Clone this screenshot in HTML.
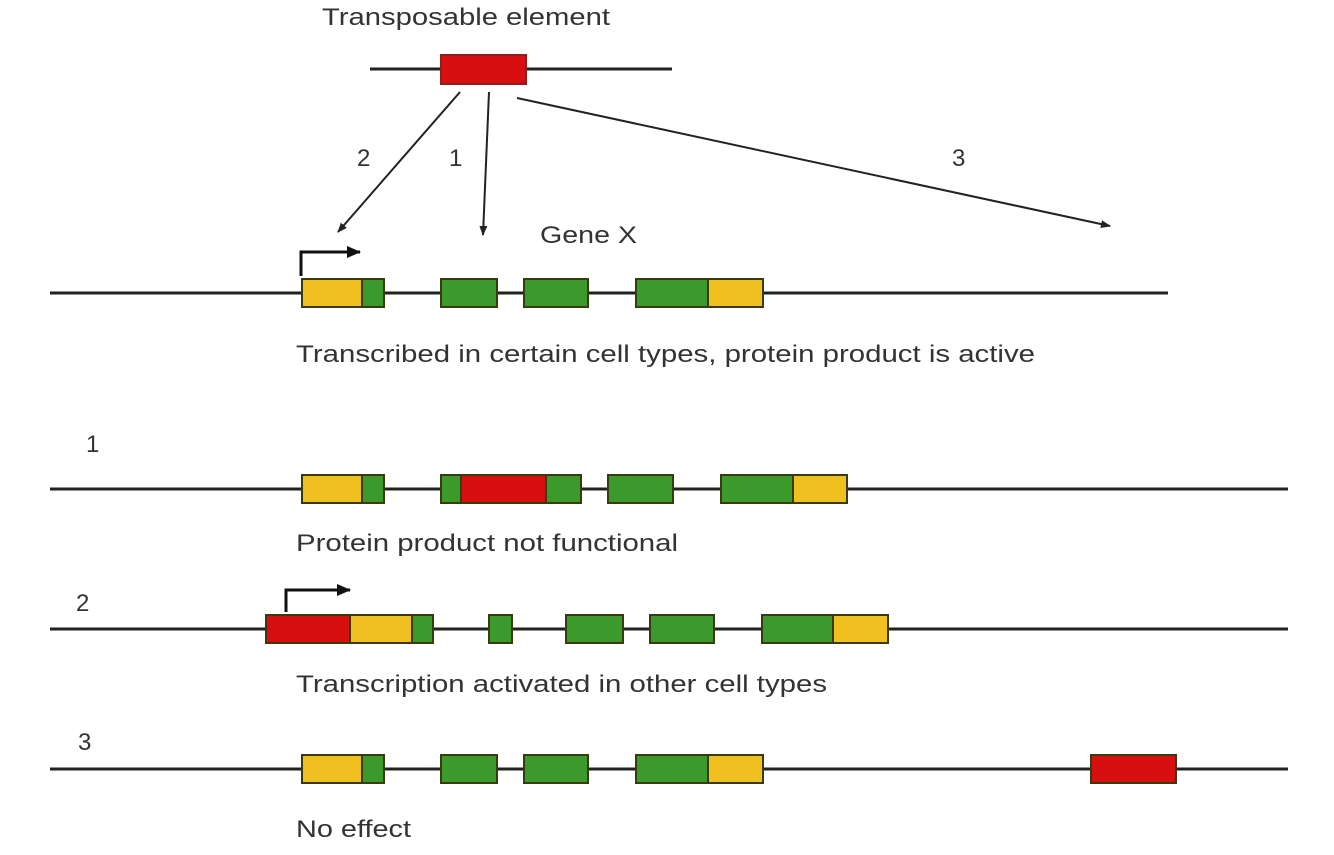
<!DOCTYPE html>
<html><head><meta charset="utf-8"><style>body{margin:0;background:#fff}svg{display:block}text{font-family:"Liberation Sans",sans-serif;fill:#333;font-size:24px}</style></head><body>
<svg width="1334" height="855" viewBox="0 0 1334 855">
<defs><marker id="a" markerWidth="10" markerHeight="8" refX="9" refY="4" orient="auto" markerUnits="userSpaceOnUse"><path d="M0,0L10,4L0,8z" fill="#222"/></marker>
<marker id="p" markerWidth="14" markerHeight="12" refX="13" refY="6" orient="auto" markerUnits="userSpaceOnUse"><path d="M0,0L14,6L0,12z" fill="#111"/></marker></defs>
<g stroke="#222" stroke-width="2.5">
<text x="322" y="25" stroke="none" textLength="288" lengthAdjust="spacingAndGlyphs">Transposable element</text>
<line x1="370" y1="69" x2="672" y2="69" stroke-width="3"/>
<rect x="441" y="55" width="85" height="29" fill="#d80f0f" stroke="#8a2020" stroke-width="2"/>
<line x1="460" y1="92" x2="338" y2="232" stroke-width="2" marker-end="url(#a)"/>
<line x1="489" y1="92" x2="483" y2="235" stroke-width="2" marker-end="url(#a)"/>
<line x1="517" y1="98" x2="1110" y2="226" stroke-width="2" marker-end="url(#a)"/>
</g>
<text x="357" y="166">2</text><text x="449" y="166">1</text><text x="952" y="166">3</text>
<text x="540" y="243" textLength="97" lengthAdjust="spacingAndGlyphs">Gene X</text>
<g stroke="#111" stroke-width="3" fill="none">
<path d="M301,276V252H360" marker-end="url(#p)"/>
<path d="M286,612V590H350" marker-end="url(#p)"/>
</g>
<g stroke="#222" stroke-width="3">
<line x1="50" y1="293" x2="1168" y2="293"/>
<line x1="50" y1="489" x2="1288" y2="489"/>
<line x1="50" y1="629" x2="1288" y2="629"/>
<line x1="50" y1="769" x2="1288" y2="769"/>
</g>
<g stroke="#3a3a10" stroke-width="2">
<rect x="302" y="279" width="60" height="28" fill="#f0c020"/><rect x="362" y="279" width="22" height="28" fill="#3c9a2c"/>
<rect x="441" y="279" width="56" height="28" fill="#3c9a2c"/><rect x="524" y="279" width="64" height="28" fill="#3c9a2c"/>
<rect x="636" y="279" width="72" height="28" fill="#3c9a2c"/><rect x="708" y="279" width="55" height="28" fill="#f0c020"/>
<rect x="302" y="475" width="60" height="28" fill="#f0c020"/><rect x="362" y="475" width="22" height="28" fill="#3c9a2c"/>
<rect x="441" y="475" width="20" height="28" fill="#3c9a2c"/><rect x="461" y="475" width="85" height="28" fill="#d80f0f"/><rect x="546" y="475" width="35" height="28" fill="#3c9a2c"/>
<rect x="608" y="475" width="65" height="28" fill="#3c9a2c"/>
<rect x="721" y="475" width="72" height="28" fill="#3c9a2c"/><rect x="793" y="475" width="54" height="28" fill="#f0c020"/>
<rect x="266" y="615" width="84" height="28" fill="#d80f0f"/><rect x="350" y="615" width="62" height="28" fill="#f0c020"/><rect x="412" y="615" width="21" height="28" fill="#3c9a2c"/>
<rect x="489" y="615" width="23" height="28" fill="#3c9a2c"/><rect x="566" y="615" width="57" height="28" fill="#3c9a2c"/>
<rect x="650" y="615" width="64" height="28" fill="#3c9a2c"/>
<rect x="762" y="615" width="71" height="28" fill="#3c9a2c"/><rect x="833" y="615" width="55" height="28" fill="#f0c020"/>
<rect x="302" y="755" width="60" height="28" fill="#f0c020"/><rect x="362" y="755" width="22" height="28" fill="#3c9a2c"/>
<rect x="441" y="755" width="56" height="28" fill="#3c9a2c"/><rect x="524" y="755" width="64" height="28" fill="#3c9a2c"/>
<rect x="636" y="755" width="72" height="28" fill="#3c9a2c"/><rect x="708" y="755" width="55" height="28" fill="#f0c020"/>
<rect x="1091" y="755" width="85" height="28" fill="#d80f0f"/>
</g>
<text x="296" y="362" textLength="739" lengthAdjust="spacingAndGlyphs">Transcribed in certain cell types, protein product is active</text>
<text x="86" y="452">1</text>
<text x="296" y="551" textLength="382" lengthAdjust="spacingAndGlyphs">Protein product not functional</text>
<text x="76" y="611">2</text>
<text x="296" y="692" textLength="531" lengthAdjust="spacingAndGlyphs">Transcription activated in other cell types</text>
<text x="78" y="750">3</text>
<text x="296" y="837" textLength="115" lengthAdjust="spacingAndGlyphs">No effect</text>
</svg>
</body></html>
